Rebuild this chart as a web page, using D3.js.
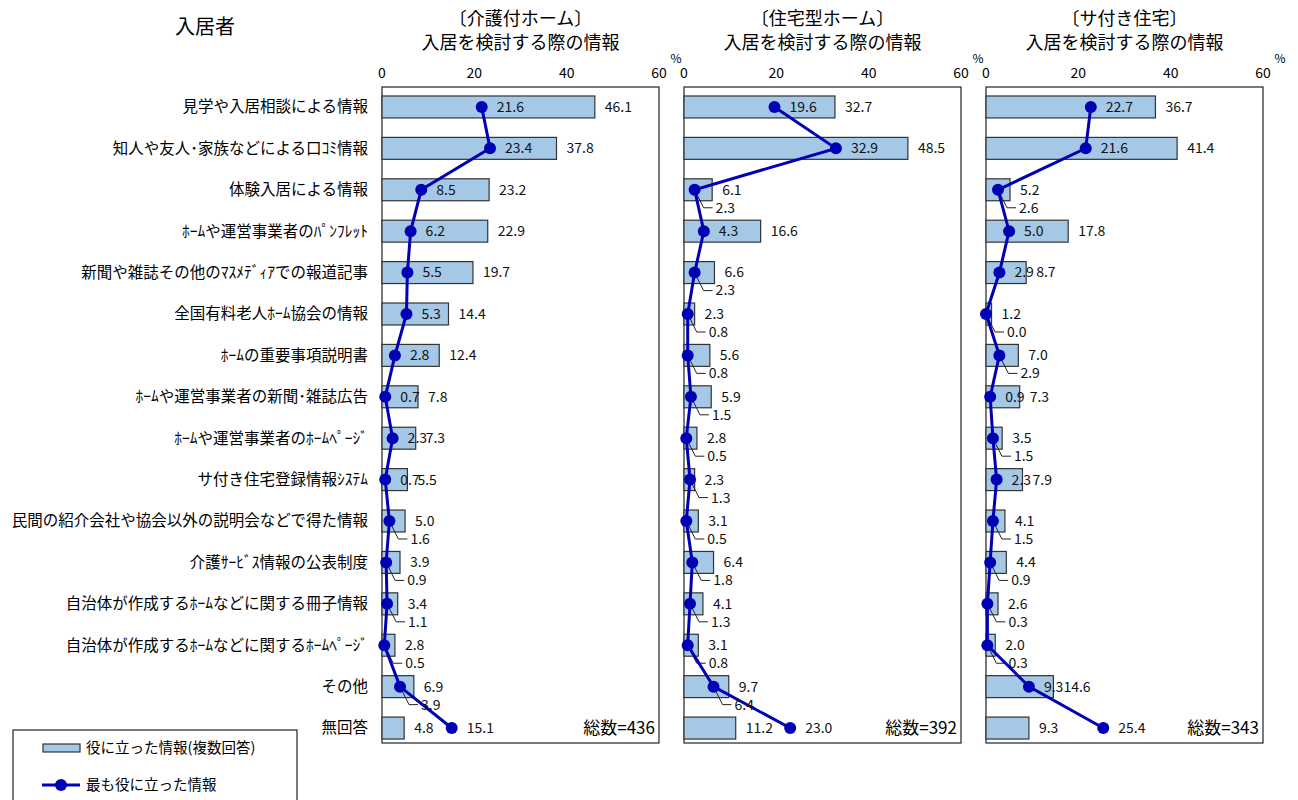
<!DOCTYPE html>
<html>
<head>
<meta charset="utf-8">
<script src="https://cdn.jsdelivr.net/npm/d3@7"></script>
<style>
  body { margin: 0; background: #fff; }
  svg { font-family: "Noto Sans CJK JP", "Noto Sans", sans-serif; }
</style>
</head>
<body>
<svg id="chart" width="1298" height="800"></svg>
<script>
// categories (rows, top to bottom)
const categories = [
    "見学や入居相談による情報",
    "知人や友人･家族などによる口ｺﾐ情報",
    "体験入居による情報",
    "ﾎｰﾑや運営事業者のﾊﾟﾝﾌﾚｯﾄ",
    "新聞や雑誌その他のﾏｽﾒﾃﾞｨｱでの報道記事",
    "全国有料老人ﾎｰﾑ協会の情報",
    "ﾎｰﾑの重要事項説明書",
    "ﾎｰﾑや運営事業者の新聞･雑誌広告",
    "ﾎｰﾑや運営事業者のﾎｰﾑﾍﾟｰｼﾞ",
    "サ付き住宅登録情報ｼｽﾃﾑ",
    "民間の紹介会社や協会以外の説明会などで得た情報",
    "介護ｻｰﾋﾞｽ情報の公表制度",
    "自治体が作成するﾎｰﾑなどに関する冊子情報",
    "自治体が作成するﾎｰﾑなどに関するﾎｰﾑﾍﾟｰｼﾞ",
    "その他",
    "無回答"
];

const panelTitles = ["〔介護付ホーム〕", "〔住宅型ホーム〕", "〔サ付き住宅〕"];
const panelTotals = [436, 392, 343];

// 役に立った情報(複数回答)
const usefulKaigo   = [46.1, 37.8, 23.2, 22.9, 19.7, 14.4, 12.4, 7.8, 7.3, 5.5, 5.0, 3.9, 3.4, 2.8, 6.9, 4.8];
const usefulJutaku  = [32.7, 48.5, 6.1, 16.6, 6.6, 2.3, 5.6, 5.9, 2.8, 2.3, 3.1, 6.4, 4.1, 3.1, 9.7, 11.2];
const usefulSatsuki = [36.7, 41.4, 5.2, 17.8, 8.7, 1.2, 7.0, 7.3, 3.5, 7.9, 4.1, 4.4, 2.6, 2.0, 14.6, 9.3];

// 最も役に立った情報
const bestKaigo   = [21.6, 23.4, 8.5, 6.2, 5.5, 5.3, 2.8, 0.7, 2.3, 0.7, 1.6, 0.9, 1.1, 0.5, 3.9, 15.1];
const bestJutaku  = [19.6, 32.9, 2.3, 4.3, 2.3, 0.8, 0.8, 1.5, 0.5, 1.3, 0.5, 1.8, 1.3, 0.8, 6.4, 23.0];
const bestSatsuki = [22.7, 21.6, 2.6, 5.0, 2.9, 0.0, 2.9, 0.9, 1.5, 2.3, 1.5, 0.9, 0.3, 0.3, 9.3, 25.4];

const xTicks = [0, 20, 40, 60];

// rows whose "best" label is pulled below the marker with a leader line
const leaderRows = [
    [10, 11, 12, 13, 14],
    [2, 4, 5, 6, 7, 8, 9, 10, 11, 12, 13, 14],
    [2, 5, 6, 8, 10, 11, 12, 13]
];

const panels = [
    { title: panelTitles[0], total: panelTotals[0], bars: usefulKaigo,   line: bestKaigo,   left: 382 },
    { title: panelTitles[1], total: panelTotals[1], bars: usefulJutaku,  line: bestJutaku,  left: 684 },
    { title: panelTitles[2], total: panelTotals[2], bars: usefulSatsuki, line: bestSatsuki, left: 986 }
];

const BAR_FILL = "#a6c8e7",
    BAR_STROKE = "#333",
    LINE_COLOR = "#0000b4",
    boxTop = 87,
    boxBottom = 743,
    plotW = 277;

const svg = d3.select("#chart");

const y = d3.scaleBand()
    .domain(categories)
    .range([boxTop, 748])
    .paddingInner(0.47)
    .paddingOuter(0.217);

// header
svg.append("text")
    .attr("x", 205).attr("y", 34)
    .attr("text-anchor", "middle")
    .attr("font-size", 20)
    .text("入居者");

// category labels
svg.append("g")
    .selectAll("text")
    .data(categories)
    .join("text")
    .attr("x", 368)
    .attr("y", d => y(d) + y.bandwidth() / 2)
    .attr("dy", "0.35em")
    .attr("text-anchor", "end")
    .attr("font-size", 15.5)
    .text(d => d);

panels.forEach((p, pi) => {
    const x = d3.scaleLinear().domain([0, 60]).range([p.left, p.left + plotW]);
    const g = svg.append("g");
    const cx = p.left + plotW / 2;
    const leaders = new Set(leaderRows[pi]);

    g.append("text").attr("x", cx).attr("y", 25).attr("text-anchor", "middle")
        .attr("font-size", 18).text(p.title);
    g.append("text").attr("x", cx).attr("y", 49).attr("text-anchor", "middle")
        .attr("font-size", 18).text("入居を検討する際の情報");

    // axis tick labels on top
    g.selectAll(".tick-lbl")
        .data(xTicks)
        .join("text")
        .attr("class", "tick-lbl")
        .attr("x", d => x(d))
        .attr("y", 78)
        .attr("text-anchor", "middle")
        .attr("font-size", 14)
        .text(d => d);

    g.append("text")
        .attr("x", x(60) + 17).attr("y", 63)
        .attr("text-anchor", "middle")
        .attr("font-size", 12)
        .text("%");

    // frame
    g.append("rect")
        .attr("x", x(0)).attr("y", boxTop)
        .attr("width", x(60) - x(0)).attr("height", boxBottom - boxTop)
        .attr("fill", "#fff").attr("stroke", "#222").attr("stroke-width", 1.2);

    // bars
    g.selectAll(".bar")
        .data(p.bars)
        .join("rect")
        .attr("class", "bar")
        .attr("x", x(0))
        .attr("y", (d, i) => y(categories[i]))
        .attr("width", d => x(d) - x(0))
        .attr("height", y.bandwidth())
        .attr("fill", BAR_FILL)
        .attr("stroke", BAR_STROKE)
        .attr("stroke-width", 1.2);

    // bar value labels
    g.selectAll(".bar-lbl")
        .data(p.bars)
        .join("text")
        .attr("class", "bar-lbl")
        .attr("x", d => x(d) + 10)
        .attr("y", (d, i) => y(categories[i]) + y.bandwidth() / 2)
        .attr("dy", "0.35em")
        .attr("font-size", 14)
        .attr("fill", "#111")
        .text(d => d.toFixed(1));

    const cy = i => y(categories[i]) + y.bandwidth() / 2;

    // leader lines for small "best" labels
    p.line.forEach((v, i) => {
        if (!leaders.has(i)) return;
        const px = x(v), py = cy(i);
        g.append("path")
            .attr("d", `M${px},${py} L${px + 9},${py + 18} L${px + 18},${py + 18}`)
            .attr("fill", "none")
            .attr("stroke", "#222")
            .attr("stroke-width", 1);
    });

    // line
    const line = d3.line()
        .x(d => x(d))
        .y((d, i) => cy(i));

    g.append("path")
        .datum(p.line)
        .attr("d", line)
        .attr("fill", "none")
        .attr("stroke", LINE_COLOR)
        .attr("stroke-width", 3);

    g.selectAll(".dot")
        .data(p.line)
        .join("circle")
        .attr("class", "dot")
        .attr("cx", d => x(d))
        .attr("cy", (d, i) => cy(i))
        .attr("r", 6)
        .attr("fill", LINE_COLOR);

    // "best" value labels
    g.selectAll(".line-lbl")
        .data(p.line)
        .join("text")
        .attr("class", "line-lbl")
        .attr("x", (d, i) => leaders.has(i) ? x(d) + 21 : x(d) + 15)
        .attr("y", (d, i) => leaders.has(i) ? cy(i) + 18 : cy(i))
        .attr("dy", "0.35em")
        .attr("font-size", 14)
        .attr("fill", "#111")
        .text(d => d.toFixed(1));

    // total
    g.append("text")
        .attr("x", x(60) - 4)
        .attr("y", cy(categories.length - 1))
        .attr("dy", "0.35em")
        .attr("text-anchor", "end")
        .attr("font-size", 17)
        .text("総数=" + p.total);
});

// legend
const lg = svg.append("g");
lg.append("rect")
    .attr("x", 13).attr("y", 730).attr("width", 284).attr("height", 80)
    .attr("fill", "#fff").attr("stroke", "#222").attr("stroke-width", 1.2);
lg.append("rect")
    .attr("x", 43).attr("y", 744).attr("width", 37).attr("height", 8)
    .attr("fill", BAR_FILL).attr("stroke", BAR_STROKE).attr("stroke-width", 1.2);
lg.append("text")
    .attr("x", 86).attr("y", 748).attr("dy", "0.35em")
    .attr("font-size", 14.5).text("役に立った情報(複数回答)");
lg.append("line")
    .attr("x1", 42).attr("x2", 80).attr("y1", 785).attr("y2", 785)
    .attr("stroke", LINE_COLOR).attr("stroke-width", 3);
lg.append("circle")
    .attr("cx", 61).attr("cy", 785).attr("r", 6).attr("fill", LINE_COLOR);
lg.append("text")
    .attr("x", 86).attr("y", 785).attr("dy", "0.35em")
    .attr("font-size", 14.5).text("最も役に立った情報");
</script>
</body>
</html>
